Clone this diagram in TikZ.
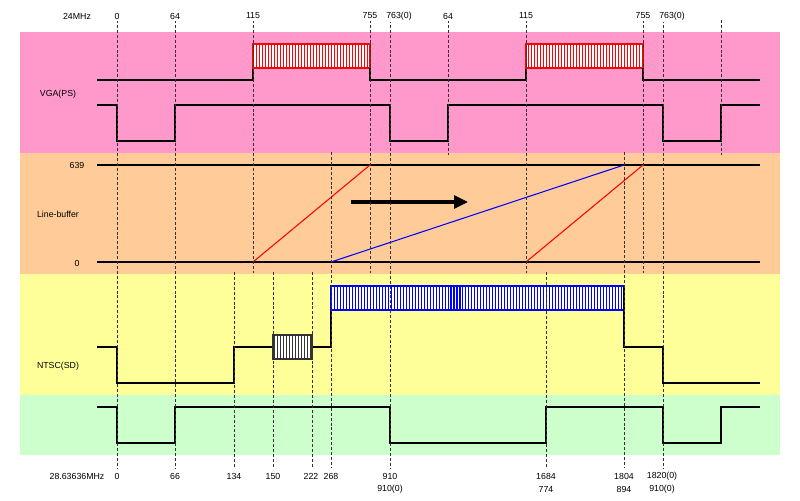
\documentclass[tikz,border=0pt]{standalone}
\usepackage{fontspec}
\setmainfont{Liberation Sans}
\usetikzlibrary{arrows.meta,patterns.meta}
\definecolor{vgapink}{HTML}{FF99CC}
\definecolor{bufforange}{HTML}{FFCC99}
\definecolor{ntscyellow}{HTML}{FFFF99}
\definecolor{syncgreen}{HTML}{CCFFCC}
\definecolor{guidegray}{HTML}{333333}
\tikzset{
  sig/.style={line width=0.8pt,black},
  guide/.style={guidegray,line width=0.45pt,dash pattern=on 1.7pt off 1.1pt},
  lbl/.style={font=\fontsize{5}{6}\selectfont,inner sep=0pt},
  hatchbox/.style={line width=0.8pt,draw=#1,preaction={fill=white},
    pattern={Lines[angle=90,distance=1.7pt,line width=0.6pt]},pattern color=#1},
}

\begin{document}
\begin{tikzpicture}[x=0.02cm,y=-0.02cm]
\useasboundingbox (0,0) rectangle (800,500);
% bands
\fill[vgapink] (20,32) rectangle (780,153);
\fill[bufforange] (20,153) rectangle (780,274);
\fill[ntscyellow] (20,274) rectangle (780,395);
\fill[syncgreen] (20,395) rectangle (780,455);

\node[lbl] (vga) at (58,94) {VGA(PS)};
\node[lbl] (buf) at (58,214) {Line-buffer};
\node[lbl] (ntsc) at (58,366) {NTSC(SD)};
\node[lbl] (top) at (77,165) {639};
\node[lbl] (bot) at (77,263) {0};

% VGA(PS)
\draw[sig] (97,80) -- (253,80) -- (253,68);
\draw[hatchbox=red] (253,44) rectangle (370,68);
\draw[sig] (370,68) -- (370,80) -- (526,80) -- (526,68);
\draw[hatchbox=red] (526,44) rectangle (643,68);
\draw[sig] (643,68) -- (643,80) -- (760,80);
\draw[sig] (97,105) -- (117,105) -- (117,141) -- (175,141) -- (175,105)
  -- (390,105) -- (390,141) -- (448,141) -- (448,105) -- (663,105)
  -- (663,141) -- (721,141) -- (721,105) -- (760,105);

% Line-buffer
\draw[sig] (97,165) -- (760,165);
\draw[sig] (97,262) -- (760,262);
\begin{scope}[line width=0.6pt]
  \draw[red] (253,262) -- (370,165);
  \draw[blue] (331,262) -- (624,165);
  \draw[red] (526,262) -- (643,165);
\end{scope}
\draw[line width=1.8pt,-{Triangle[length=0.28cm,width=0.26cm]}] (351,202) -- (468,202);

% NTSC(SD)
\draw[sig] (97,347) -- (117,347) -- (117,383) -- (234,383) -- (234,347) -- (273,347);
\draw[hatchbox=black!80] (273,335) rectangle (312,359);
\draw[sig] (312,347) -- (331,347) -- (331,310);
\draw[hatchbox=blue] (331,286) rectangle (624,310);
\draw[sig] (624,286) -- (624,347) -- (663,347) -- (663,383) -- (760,383);

% sync
\draw[sig] (97,407) -- (117,407) -- (117,443) -- (175,443) -- (175,407)
  -- (390,407) -- (390,443) -- (546,443) -- (546,407) -- (663,407)
  -- (663,443) -- (721,443) -- (721,407) -- (760,407);

% guides
\foreach \x/\ya/\yb in {117/20/468,175/20/468,253/20/273,370/20/273,390/20/468,
    448/20/155,526/20/273,643/20/273,663/20/468,721/20/155,331/152/468,
    624/152/468,234/272/468,273/272/468,312/272/468,546/272/468}
  \draw[guide] (\x,\ya) -- (\x,\yb);

% counts
\node[lbl] (clkvga) at (77,16) {24MHz};
\foreach \x/\t in {117/0,175/64,253/115,370/755,448/64,526/115,643/755}
  \node[lbl,fill=white,inner ysep=1pt] (h\x) at (\x,16) {\t};
\node[lbl,fill=white,inner ysep=1pt] (h399) at (399,16) {763(0)};
\node[lbl,fill=white,inner ysep=1pt] (h672) at (672,16) {763(0)};

\node[lbl] (clkntsc) at (77,476) {28.63636MHz};
\foreach \x/\t in {117/0,175/66,234/134,273/150,311/222,331/268,390/910,
    546/1684,624/1804,662/1820(0)}
  \node[lbl,fill=white,inner ysep=1pt] (n\x) at (\x,476) {\t};
\foreach \x/\t in {390/910(0),546/774,624/894,662/910(0)}
  \node[lbl] (m\x) at (\x,489) {\t};
\end{tikzpicture}
\end{document}
